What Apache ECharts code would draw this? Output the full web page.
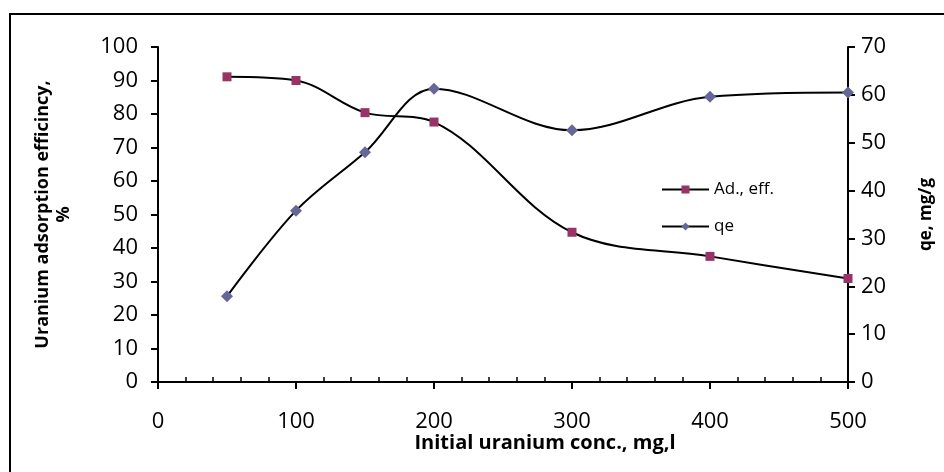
<!DOCTYPE html>
<html>
<head>
<meta charset="utf-8">
<script src="https://cdn.jsdelivr.net/npm/echarts@6/dist/echarts.min.js"></script>
<style>
  html, body { margin: 0; padding: 0; background: #fff; }
  #chart { width: 944px; height: 472px; }
</style>
</head>
<body>
<div id="chart"></div>
<script>
  // initial uranium concentration, mg/l
  const conc = [50, 100, 150, 200, 300, 400, 500];
  // adsorption efficiency, %
  const adEff = [91.1, 90.0, 80.4, 77.6, 44.7, 37.5, 30.9];
  // qe, mg/g
  const qe = [17.9, 35.8, 48.0, 61.3, 52.6, 59.6, 60.5];

  const pairs = (xs, ys) => xs.map((x, i) => [x, ys[i]]);
  const font = '"Open Sans", Lato, sans-serif';

  let chart = echarts.init(document.getElementById('chart'));
  chart.setOption({
    animation: false,
    backgroundColor: '#fff',
    textStyle: { fontFamily: font, color: '#000' },
    grid: { left: 158, right: 96, top: 47, bottom: 90 },
    graphic: [
      {
        type: 'rect',
        shape: { x: 10, y: 14, width: 1000, height: 1000 },
        style: { fill: 'none', stroke: '#000', lineWidth: 2 }
      },
      {
        type: 'text',
        x: 545, y: 443,
        style: {
          text: 'Initial uranium conc., mg,l',
          font: 'bold 20px ' + font,
          fill: '#000',
          align: 'center',
          verticalAlign: 'middle'
        }
      }
    ],
    legend: {
      orient: 'vertical',
      left: 656,
      top: 176,
      itemGap: 20,
      itemWidth: 47,
      itemHeight: 10,
      textStyle: { fontSize: 17, color: '#000', fontFamily: font },
      data: ['Ad., eff.', 'qe']
    },
    xAxis: {
      type: 'value',
      min: 0, max: 500, interval: 100,
      axisLine: { lineStyle: { color: '#000', width: 2 } },
      axisTick: { length: 7, lineStyle: { color: '#000', width: 2 } },
      minorTick: { show: true, splitNumber: 5, length: -5, lineStyle: { color: '#000', width: 1.5 } },
      axisLabel: { fontSize: 22, color: '#000', margin: 29, fontFamily: font },
      splitLine: { show: false }
    },
    yAxis: [
      {
        type: 'value',
        min: 0, max: 100, interval: 10,
        name: 'Uranium adsorption efficincy,\n%',
        nameLocation: 'middle',
        nameRotate: 90,
        nameGap: 84,
        nameTextStyle: { fontSize: 18, fontWeight: 'bold', color: '#000', lineHeight: 21, fontFamily: font },
        axisLine: { show: true, lineStyle: { color: '#000', width: 2 } },
        axisTick: { show: true, length: 7, lineStyle: { color: '#000', width: 2 } },
        axisLabel: { fontSize: 22, color: '#000', margin: 20, fontFamily: font },
        splitLine: { show: false }
      },
      {
        type: 'value',
        min: 0, max: 70, interval: 10,
        position: 'right',
        name: 'qe, mg/g',
        nameLocation: 'middle',
        nameRotate: 90,
        nameGap: 70,
        nameTextStyle: { fontSize: 17, fontWeight: 'bold', color: '#000', fontFamily: font },
        axisLine: { show: true, lineStyle: { color: '#000', width: 2 } },
        axisTick: { show: true, length: 7, lineStyle: { color: '#000', width: 2 } },
        axisLabel: { fontSize: 22, color: '#000', margin: 13, fontFamily: font },
        splitLine: { show: false }
      }
    ],
    series: [
      {
        name: 'Ad., eff.',
        type: 'line',
        yAxisIndex: 0,
        smooth: 0.35,
        symbol: 'rect',
        symbolSize: 9,
        itemStyle: { color: '#993366' },
        lineStyle: { color: '#000', width: 2 },
        data: pairs(conc, adEff)
      },
      {
        name: 'qe',
        type: 'line',
        yAxisIndex: 1,
        smooth: 0.35,
        symbol: 'diamond',
        symbolSize: 12,
        itemStyle: { color: '#666699' },
        lineStyle: { color: '#000', width: 2 },
        data: pairs(conc, qe)
      }
    ]
  });
</script>
</body>
</html>
